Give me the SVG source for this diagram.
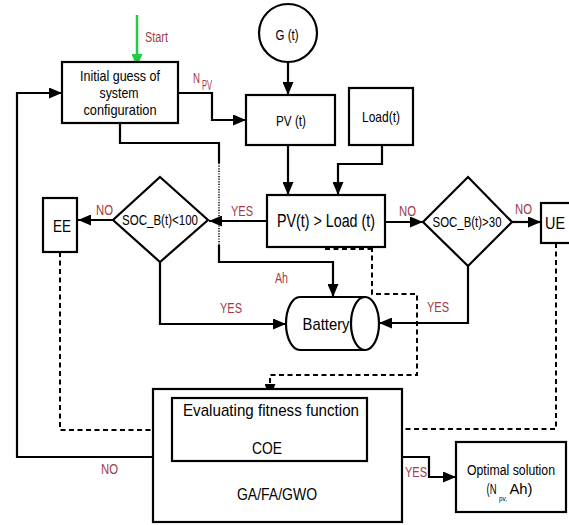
<svg xmlns="http://www.w3.org/2000/svg" width="569" height="525" viewBox="0 0 569 525">
<style>
.box{fill:#fff;stroke:#000;stroke-width:2.2}
.t{font-family:"Liberation Sans",Arial,sans-serif;fill:#000;text-anchor:middle}
.ts{font-family:"Liberation Sans",Arial,sans-serif;fill:#000}
.lbl{font-family:"Liberation Sans",Arial,sans-serif;fill:#a33a45;font-size:14px}
.ln{fill:none;stroke:#000;stroke-width:2.2}
.dash{fill:none;stroke:#000;stroke-width:2;stroke-dasharray:5,3.5}
.dot{fill:none;stroke:#000;stroke-width:1.5;stroke-dasharray:1.2,1.4}
</style>
<defs>
<marker id="ah" markerUnits="userSpaceOnUse" markerWidth="13" markerHeight="11" refX="13" refY="5.5" orient="auto">
<path d="M0,0 L13,5.5 L0,11 z" fill="#000"/>
</marker>
<marker id="ahg" markerUnits="userSpaceOnUse" markerWidth="13" markerHeight="11" refX="13" refY="5.5" orient="auto">
<path d="M0,0 L13,5.5 L0,11 z" fill="#22cc44"/>
</marker>
</defs>
<rect width="569" height="525" fill="#fff"/>

<g id="connectors">
<line x1="137" y1="15" x2="137" y2="67" stroke="#22cc44" stroke-width="2.5" marker-end="url(#ahg)"/>
<polyline class="ln" points="178,93 212,93 212,120 246,120" marker-end="url(#ah)"/>
<line class="ln" x1="288" y1="62" x2="288" y2="95" marker-end="url(#ah)"/>
<line class="ln" x1="288" y1="145" x2="288" y2="195" marker-end="url(#ah)"/>
<polyline class="ln" points="382,145 382,164 338,164 338,195" marker-end="url(#ah)"/>
<line class="ln" x1="267" y1="221" x2="209" y2="221" marker-end="url(#ah)"/>
<line class="ln" x1="113" y1="220" x2="78" y2="220" marker-end="url(#ah)"/>
<polyline class="ln" points="120,123 120,143 219,143 219,163"/>
<line class="dot" x1="219" y1="163" x2="219" y2="245"/>
<polyline class="ln" points="219,245 219,262 333,262 333,297" marker-end="url(#ah)"/>
<polyline class="ln" points="160,262 160,324 286,324" marker-end="url(#ah)"/>
<line class="ln" x1="385" y1="222" x2="423" y2="222" marker-end="url(#ah)"/>
<line class="ln" x1="512" y1="222" x2="541" y2="222" marker-end="url(#ah)"/>
<polyline class="ln" points="468,266 468,323 379,323" marker-end="url(#ah)"/>
<line class="dash" x1="325" y1="249" x2="372" y2="249"/>
<polyline class="dash" points="372,247 372,294 417,294 417,375 270,375 270,397" marker-end="url(#ah)"/>
<polyline class="dash" points="60,252 60,430 172,430" marker-end="url(#ah)"/>
<polyline class="dash" points="556,243 556,429 367,429" marker-end="url(#ah)"/>
<polyline class="ln" points="153,457 17,457 17,93 62,93" marker-end="url(#ah)"/>
<polyline class="ln" points="402,457 429,457 429,477 456,477" marker-end="url(#ah)"/>
<text class="lbl" x="145" y="42" textLength="23" lengthAdjust="spacingAndGlyphs">Start</text>
<text class="lbl" x="193" y="83" textLength="7" lengthAdjust="spacingAndGlyphs">N</text>
<text class="lbl" x="202" y="90" font-size="9" textLength="10" lengthAdjust="spacingAndGlyphs">PV</text>
<text class="lbl" x="231" y="216" textLength="22" lengthAdjust="spacingAndGlyphs">YES</text>
<text class="lbl" x="96" y="215" textLength="17" lengthAdjust="spacingAndGlyphs">NO</text>
<text class="lbl" x="275" y="283" textLength="13" lengthAdjust="spacingAndGlyphs">Ah</text>
<text class="lbl" x="220" y="313" textLength="22" lengthAdjust="spacingAndGlyphs">YES</text>
<text class="lbl" x="399" y="216" textLength="17" lengthAdjust="spacingAndGlyphs">NO</text>
<text class="lbl" x="515" y="214" textLength="17" lengthAdjust="spacingAndGlyphs">NO</text>
<text class="lbl" x="427" y="312" textLength="22" lengthAdjust="spacingAndGlyphs">YES</text>
<text class="lbl" x="101" y="474" textLength="17" lengthAdjust="spacingAndGlyphs">NO</text>
<text class="lbl" x="405" y="477" textLength="22" lengthAdjust="spacingAndGlyphs">YES</text>
</g>

<g id="initial">
<rect class="box" x="62" y="62" width="116" height="61"/>
<text class="t" x="120" y="81" font-size="15" textLength="80" lengthAdjust="spacingAndGlyphs">Initial guess of</text>
<text class="t" x="119" y="98" font-size="15" textLength="39" lengthAdjust="spacingAndGlyphs">system</text>
<text class="t" x="120" y="115" font-size="15" textLength="73" lengthAdjust="spacingAndGlyphs">configuration</text>
</g>
<g id="gt">
<circle cx="288" cy="33" r="29" fill="#fff" stroke="#000" stroke-width="2.2"/>
<text class="t" x="287" y="40" font-size="15" textLength="23" lengthAdjust="spacingAndGlyphs">G (t)</text>
</g>
<g id="pv">
<rect class="box" x="246" y="95" width="89" height="50"/>
<text class="t" x="291" y="126" font-size="15" textLength="30" lengthAdjust="spacingAndGlyphs">PV (t)</text>
</g>
<g id="load">
<rect class="box" x="349" y="88" width="64" height="57"/>
<text class="t" x="381" y="122" font-size="15" textLength="38" lengthAdjust="spacingAndGlyphs">Load(t)</text>
</g>
<g id="compare">
<rect class="box" x="267" y="195" width="118" height="52"/>
<text class="t" x="326" y="227" font-size="18" textLength="98" lengthAdjust="spacingAndGlyphs">PV(t) &gt; Load (t)</text>
</g>
<g id="soc100">
<polygon class="box" points="160,177 208,220 160,262 113,220"/>
<text class="t" x="160" y="225" font-size="14" textLength="76" lengthAdjust="spacingAndGlyphs">SOC_B(t)&lt;100</text>
</g>
<g id="ee">
<rect class="box" x="43" y="198" width="34" height="54"/>
<text class="t" x="62" y="232" font-size="16" textLength="18" lengthAdjust="spacingAndGlyphs">EE</text>
</g>
<g id="soc30">
<polygon class="box" points="468,177 512,222 468,266 423,222"/>
<text class="t" x="467" y="227" font-size="14" textLength="69" lengthAdjust="spacingAndGlyphs">SOC_B(t)&gt;30</text>
</g>
<g id="ue">
<rect class="box" x="541" y="203" width="35" height="40"/>
<text class="t" x="555" y="229" font-size="17" textLength="20" lengthAdjust="spacingAndGlyphs">UE</text>
</g>
<g id="battery">
<path class="box" d="M300,297 L365,297 L365,350 L300,350 A14,26.5 0 0 1 300,297 Z"/>
<ellipse class="box" cx="365" cy="323.5" rx="14" ry="26.5"/>
<text class="t" x="326" y="330" font-size="17" textLength="47" lengthAdjust="spacingAndGlyphs">Battery</text>
</g>
<g id="ga">
<rect class="box" x="153" y="389" width="249" height="133"/>
<text class="t" x="277" y="500" font-size="16" textLength="80" lengthAdjust="spacingAndGlyphs">GA/FA/GWO</text>
</g>
<g id="eval">
<rect class="box" x="172" y="398" width="195" height="63"/>
<text class="t" x="271" y="416" font-size="17" textLength="176" lengthAdjust="spacingAndGlyphs">Evaluating fitness function</text>
<text class="t" x="267" y="454" font-size="16" textLength="30" lengthAdjust="spacingAndGlyphs">COE</text>
</g>
<g id="optimal">
<rect class="box" x="456" y="442" width="110" height="70"/>
<text class="t" x="511" y="475" font-size="14" textLength="88" lengthAdjust="spacingAndGlyphs">Optimal solution</text>
<text class="ts" x="486.5" y="494" font-size="14" textLength="10" lengthAdjust="spacingAndGlyphs">(N</text>
<text class="ts" x="499" y="501" font-size="8" textLength="8" lengthAdjust="spacingAndGlyphs">pv,</text>
<text class="ts" x="509.5" y="494" font-size="14" textLength="23" lengthAdjust="spacingAndGlyphs">Ah)</text>
</g>
</svg>
